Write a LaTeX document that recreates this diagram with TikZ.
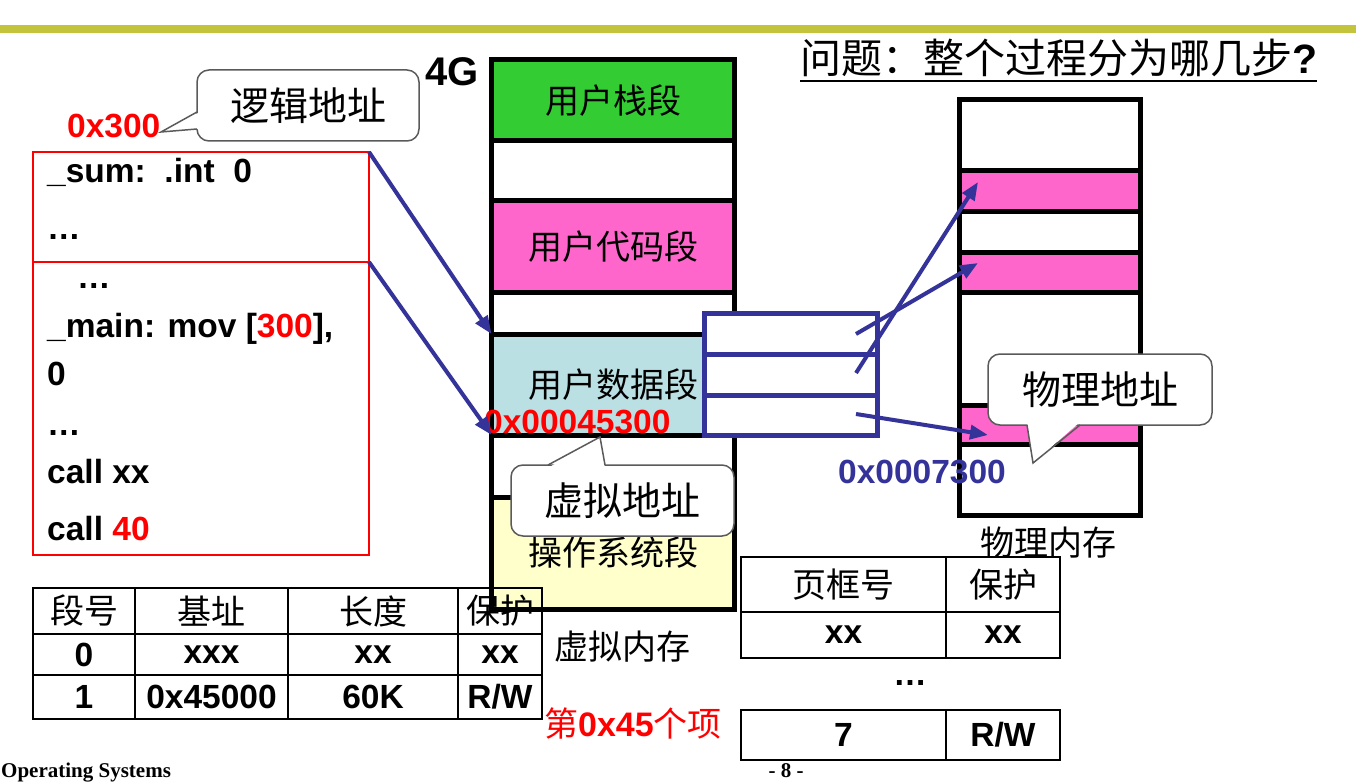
\documentclass[tikz,border=0pt]{standalone}
\usepackage{fontspec}
\setmainfont{Liberation Sans}
\newfontfamily\cjk{Noto Sans CJK SC}
\newfontfamily\timesf{Liberation Serif}
\usetikzlibrary{arrows.meta,calc}
\definecolor{myblue}{HTML}{333399}
\definecolor{segGreen}{HTML}{33CC33}
\definecolor{segPink}{HTML}{FF66CC}
\definecolor{segCyan}{HTML}{BBE0E3}
\definecolor{segYellow}{HTML}{FFFFCC}
\definecolor{olive}{HTML}{C4C43C}
\definecolor{calloutGray}{HTML}{5A5A5A}
\begin{document}
\begin{tikzpicture}[x=1pt,y=-1pt,
  cjkf/.style={font=\cjk\fontsize{34pt}{40pt}\selectfont},
  codef/.style={font=\bfseries\fontsize{33.5pt}{40pt}\selectfont},
  seg/.style={draw=black, line width=5pt, minimum width=243pt, inner sep=0pt, outer sep=0pt, cjkf},
  pseg/.style={draw=black, line width=5pt, minimum width=181pt, inner sep=0pt, outer sep=0pt},
  ptrow/.style={draw=myblue, line width=5pt, fill=white, minimum width=173pt, inner sep=0pt, outer sep=0pt},
  codebox/.style={draw=red, line width=1.5pt, minimum width=336pt, inner sep=0pt, outer sep=0pt},
  codeline/.style={codef, anchor=base west, inner sep=0pt},
  callbox/.style={draw=calloutGray, line width=1.5pt, fill=white, rounded corners=12pt, minimum width=223pt, minimum height=71pt, inner sep=0pt, outer sep=0pt, font=\cjk\fontsize{39pt}{40pt}\selectfont},
  callline/.style={draw=calloutGray, line width=1.5pt},
  barrow/.style={draw=myblue, line width=4pt, -{Triangle[length=18pt,width=14pt]}},
  tcell/.style={draw=black, line width=2pt, inner sep=0pt, outer sep=0pt},
  addr/.style={codef, anchor=base west, inner sep=0pt},
  footf/.style={font=\timesf\bfseries\fontsize{21pt}{24pt}\selectfont, inner sep=0pt}
]
\useasboundingbox (0,0) rectangle (1356,783);
\fill[white] (0,0) rectangle (1356,783);

% olive rule
\fill[olive] (0,25) rectangle (1356,33);

% virtual memory column
\node[seg, fill=segGreen, minimum height=81.5pt] (stack) at (613,100.25) {用户栈段};
\node[seg, fill=white, minimum height=60pt] (gap1) at (613,171) {};
\node[seg, fill=segPink, minimum height=92pt] (ucode) at (613,247) {用户代码段};
\node[seg, fill=white, minimum height=41pt] (gap2) at (613,313.5) {};
\node[seg, fill=segCyan, minimum height=101pt] (data) at (613,384.5) {用户数据段};
\node[seg, fill=white, minimum height=62pt] (gap3) at (613,466) {};
\node[seg, fill=segYellow, minimum height=112pt] (os) at (613,553) {操作系统段};

% physical memory column
\node[pseg, fill=white, minimum height=71pt] (pm0) at (1049.5,135.5) {};
\node[pseg, fill=segPink, minimum height=41pt] (pm1) at (1049.5,191.5) {};
\node[pseg, fill=white, minimum height=41pt] (pm2) at (1049.5,232.5) {};
\node[pseg, fill=segPink, minimum height=40pt] (pm3) at (1049.5,273) {};
\node[pseg, fill=white, minimum height=112pt] (pm4) at (1049.5,349) {};
\node[pseg, fill=segPink, minimum height=39pt] (pm5) at (1049.5,424.5) {};
\node[pseg, fill=white, minimum height=71pt] (pm6) at (1049.5,479.5) {};

% page table
\node[ptrow, minimum height=40pt] (pt1) at (790.5,334) {};
\node[ptrow, minimum height=41pt] (pt2) at (790.5,374.5) {};
\node[ptrow, minimum height=40pt] (pt3) at (790.5,415) {};

% code box
\node[codebox, minimum height=110pt] (cb1) at (201,207) {};
\node[codebox, minimum height=293pt] (cb2) at (201,408.5) {};
\node[codeline] (l1) at (47,183) {\_sum:\ \ .int\ \ 0};
\node[codeline] (l2) at (47,240) {…};
\node[codeline] (l3) at (77,289) {…};
\node[codeline] (l4) at (47,337) {\_main: mov [\textcolor{red}{300}],};
\node[codeline] (l5) at (47,385) {0};
\node[codeline] (l6) at (47,435) {…};
\node[codeline] (l7) at (47,483) {call xx};
\node[codeline] (l8) at (47,540) {call \textcolor{red}{40}};

% address labels
\node[addr, text=red] (a300) at (67,138) {0x300};
\node[addr, text=red] (va) at (484,433) {0x00045300};
\node[addr, text=myblue] (pa) at (838,483) {0x0007300};
\node[anchor=base west, inner sep=0pt, font=\bfseries\fontsize{40pt}{44pt}\selectfont] (g4) at (425,86) {4G};

% callouts
\coordinate (tip1) at (161,132);
\coordinate (tip2) at (600,437);
\coordinate (tip3) at (1033,463);
\node[callbox, minimum width=222pt] (cl1) at (308,105.5) {逻辑地址};
\fill[white] ([xshift=3pt,yshift=-6.5pt]cl1.west) -- (tip1) -- ([xshift=3pt,yshift=-23.5pt]cl1.west) -- cycle;
\draw[callline] ([yshift=-6.5pt]cl1.west) -- (tip1) -- ([yshift=-23.5pt]cl1.west);

\node[callbox] (cl2) at (622.5,500.5) {虚拟地址};
\fill[white] ([xshift=-74.5pt,yshift=-3pt]cl2.north) -- (tip2) -- ([xshift=-17.5pt,yshift=-3pt]cl2.north) -- cycle;
\draw[callline] ([xshift=-74.5pt]cl2.north) -- (tip2) -- ([xshift=-17.5pt]cl2.north);

\node[callbox, minimum width=224pt] (cl3) at (1100,389.5) {物理地址};
\fill[white] ([xshift=-73pt,yshift=3pt]cl3.south) -- (tip3) -- ([xshift=-20pt,yshift=3pt]cl3.south) -- cycle;
\draw[callline] ([xshift=-73pt]cl3.south) -- (tip3) -- ([xshift=-20pt]cl3.south);

% arrows from code box
\draw[barrow] (cb1.north east) -- (data.north west);
\draw[barrow] (cb1.south east) -- (data.south west);

% arrows from page table
\coordinate (s1) at ([xshift=-21pt]pt1.east);
\coordinate (s2) at ([xshift=-21pt,yshift=1.5pt]pt2.east);
\coordinate (s3) at ([xshift=-21pt,yshift=1pt]pt3.east);
\draw[barrow] (s1) -- ([xshift=19pt,yshift=10pt]pm3.west);
\draw[barrow] (s2) -- ([xshift=19pt,yshift=9.5pt]pm1.west);
\draw[barrow] (s3) -- ([xshift=29pt,yshift=-10.5pt]pm5.west);

% question
\node[anchor=base west, inner sep=0pt, font=\cjk\fontsize{41pt}{44pt}\selectfont] (q) at (800,74) {问题：整个过程分为哪几步{\fontspec{Liberation Sans}\bfseries ?}};
\draw[line width=2pt] ([yshift=-7pt]q.base west) -- ([yshift=-7pt]q.base east);

% segment table
\node[tcell, cjkf, minimum width=102pt, minimum height=46pt] (h1) at (84,611) {段号};
\node[tcell, cjkf, minimum width=153pt, minimum height=46pt] (h2) at (211.5,611) {基址};
\node[tcell, cjkf, minimum width=170pt, minimum height=46pt] (h3) at (373,611) {长度};
\node[tcell, cjkf, minimum width=84pt, minimum height=46pt] (h4) at (500,611) {保护};
\node[tcell, codef, minimum width=102pt, minimum height=41pt] (r01) at (84,654.5) {0};
\node[tcell, codef, minimum width=153pt, minimum height=41pt] (r02) at (211.5,654.5) {xxx};
\node[tcell, codef, minimum width=170pt, minimum height=41pt] (r03) at (373,654.5) {xx};
\node[tcell, codef, minimum width=84pt, minimum height=41pt] (r04) at (500,654.5) {xx};
\node[tcell, codef, minimum width=102pt, minimum height=44pt] (r11) at (84,697) {1};
\node[tcell, codef, minimum width=153pt, minimum height=44pt] (r12) at (211.5,697) {0x45000};
\node[tcell, codef, minimum width=170pt, minimum height=44pt] (r13) at (373,697) {60K};
\node[tcell, codef, minimum width=84pt, minimum height=44pt] (r14) at (500,697) {R/W};

% page frame table
\node[tcell, cjkf, minimum width=205pt, minimum height=55pt] (ph1) at (843.5,584.5) {页框号};
\node[tcell, cjkf, minimum width=114pt, minimum height=55pt] (ph2) at (1003,584.5) {保护};
\node[tcell, codef, minimum width=205pt, minimum height=46pt] (pr1) at (843.5,635) {xx};
\node[tcell, codef, minimum width=114pt, minimum height=46pt] (pr2) at (1003,635) {xx};
\node[codef, anchor=base, inner sep=0pt] (pdots) at (910,685) {…};
\node[tcell, codef, minimum width=205pt, minimum height=50pt] (pr3) at (843.5,735) {7};
\node[tcell, codef, minimum width=114pt, minimum height=50pt] (pr4) at (1003,735) {R/W};

% labels
\node[cjkf] (vmem) at (622,647) {虚拟内存};
\node[cjkf, text=red] (item) at (633,724) {第{\bfseries\fontspec{Liberation Sans}0x45}个项};
\node[cjkf] (pmem) at (1048,543) {物理内存};

% footer
\node[footf, anchor=base west] (os2) at (1,777) {Operating Systems};
\node[footf, anchor=base] (pg) at (786,777) {- 8 -};
\end{tikzpicture}
\end{document}
